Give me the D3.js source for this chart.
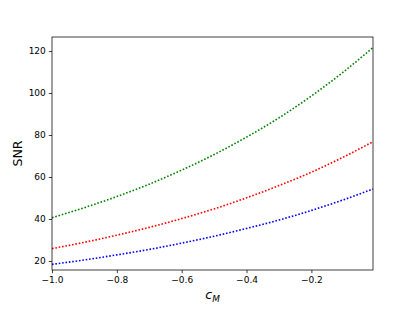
<!DOCTYPE html>
<html>
<head>
<meta charset="utf-8">
<script src="https://cdn.jsdelivr.net/npm/d3@7"></script>
<style>
  body { margin: 0; background: #fff; }
  svg { display: block; }
  text { font-family: "DejaVu Sans", sans-serif; fill: #000; }
</style>
</head>
<body>
<script>
const width = 415;
const height = 311;
const margins = { top: 37, right: 42, bottom: 41, left: 52 };

// values
const cM = [-1.0, -0.9, -0.8, -0.7, -0.6, -0.5, -0.4, -0.3, -0.2, -0.1, -0.01];
const snrGreen = [40.6, 45.4, 50.7, 56.6, 63.3, 70.7, 79.0, 88.2, 98.6, 110.2, 121.7];
const snrRed = [25.9, 28.9, 32.3, 36.0, 40.2, 44.8, 50.1, 55.9, 62.3, 69.6, 76.8];
const snrBlue = [18.4, 20.5, 22.9, 25.5, 28.5, 31.8, 35.5, 39.5, 44.1, 49.2, 54.3];

const xTicks = [-1.0, -0.8, -0.6, -0.4, -0.2];
const yTicks = [20, 40, 60, 80, 100, 120];

const series = [
  { colour: "green", values: snrGreen },
  { colour: "red", values: snrRed },
  { colour: "blue", values: snrBlue },
];

const svg = d3
  .select("body")
  .append("svg")
  .attr("width", width)
  .attr("height", height);

const x = d3
  .scaleLinear()
  .domain([-1.0, -0.01])
  .range([margins.left, width - margins.right]);

const y = d3
  .scaleLinear()
  .domain([15.7, 126.7])
  .range([height - margins.bottom, margins.top]);

const fmt = (d) => d.toFixed(1).replace("-", "\u2212");

const xAxis = svg
  .append("g")
  .attr("transform", "translate(0," + (height - margins.bottom) + ")")
  .call(d3.axisBottom(x).tickValues(xTicks).tickFormat(fmt).tickSize(3.2).tickPadding(3));

const yAxis = svg
  .append("g")
  .attr("transform", "translate(" + margins.left + ",0)")
  .call(d3.axisLeft(y).tickValues(yTicks).tickSize(3.2).tickPadding(3));

[xAxis, yAxis].forEach((g) => {
  g.select(".domain").remove();
  g.selectAll("line").attr("stroke", "#000").attr("stroke-width", 0.75);
  g.selectAll("text")
    .attr("font-family", "DejaVu Sans")
    .attr("font-size", 9)
    .attr("fill", "#000");
});

const line = d3
  .line()
  .x((d, i) => x(cM[i]))
  .y((d) => y(d))
  .curve(d3.curveMonotoneX);

svg
  .selectAll(".series")
  .data(series)
  .join("path")
  .attr("class", "series")
  .attr("d", (d) => line(d.values))
  .attr("fill", "none")
  .attr("stroke", (d) => d.colour)
  .attr("stroke-width", 1.6)
  .attr("stroke-dasharray", "1.6,1.8");

// frame
svg
  .append("rect")
  .attr("x", margins.left)
  .attr("y", margins.top)
  .attr("width", width - margins.left - margins.right)
  .attr("height", height - margins.top - margins.bottom)
  .attr("fill", "none")
  .attr("stroke", "#000")
  .attr("stroke-width", 0.75);

// axis labels
const xl = svg
  .append("text")
  .attr("x", (margins.left + width - margins.right) / 2)
  .attr("y", 299)
  .attr("text-anchor", "middle")
  .attr("font-size", 12.6);
xl.append("tspan").attr("font-style", "italic").text("c");
xl.append("tspan")
  .attr("font-style", "italic")
  .attr("font-size", 8.8)
  .attr("dy", 2.5)
  .text("M");

svg
  .append("text")
  .attr("transform", "translate(22," + (margins.top + height - margins.bottom) / 2 + ") rotate(-90)")
  .attr("text-anchor", "middle")
  .attr("font-size", 12.6)
  .text("SNR");
</script>
</body>
</html>
